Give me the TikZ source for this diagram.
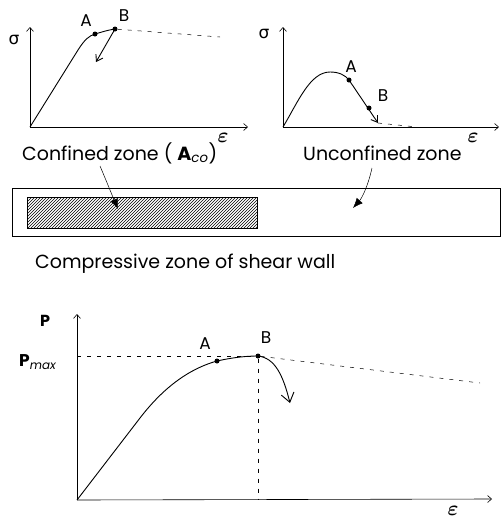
\documentclass[tikz,border=0pt]{standalone}
\usepackage{fontspec}
\setmainfont{Poppins}
\newfontfamily\greekfont{DejaVu Sans}
\usetikzlibrary{arrows.meta,patterns}

\begin{document}
\begin{tikzpicture}[x=1pt,y=-1pt,
  axis/.style={-{Straight Barb[length=4pt,width=7pt]}, line width=0.6pt},
  curve/.style={line width=0.9pt},
  trail/.style={dash pattern=on 4pt off 6pt, line width=0.5pt},
  pt/.style={circle, fill, inner sep=0pt, minimum size=5pt},
  lbl/.style={font=\fontsize{17}{19}\selectfont, inner sep=1pt},
  eps/.style={font=\fontsize{22}{24}\selectfont\boldmath, inner sep=1pt},
  zone/.style={font=\fontsize{19}{21}\selectfont, inner sep=0pt},
  pointer/.style={-{Latex[length=10pt,width=8pt]}, line width=0.5pt}]
\useasboundingbox (0,0) rectangle (501,520);

% confined concrete: stress--strain
\coordinate (o1) at (30,127);
\coordinate (y1) at (30,27);
\coordinate (x1) at (248,127);
\draw[axis] (o1) -- (y1);
\draw[axis] (o1) -- (x1);
\node[lbl] (s1) at (14,40) {\greekfont σ};
\node[eps] (e1) at (223,138) {$\varepsilon$};
\node[pt] (A1) at (95,34) {};
\node[pt] (B1) at (115,29) {};
\node[lbl] (la1) at (86,21) {A};
\node[lbl] (lb1) at (124,16) {B};
\coordinate (d1) at (220,37);
\coordinate (r1) at (96,62);
\draw[curve] (o1) -- (78,50) .. controls (85,39) and (89,36) .. (A1.center)
  .. controls (102,32) and (108,30) .. (B1.center);
\draw[trail] (B1) -- (d1);
\draw[curve, -{Straight Barb[length=6pt,width=8pt]}] (B1.center) -- (r1);

% unconfined concrete: stress--strain
\coordinate (o2) at (283,127);
\coordinate (y2) at (283,27);
\coordinate (x2) at (499,127);
\draw[axis] (o2) -- (y2);
\draw[axis] (o2) -- (x2);
\node[lbl] (s2) at (264,34) {\greekfont σ};
\node[eps] (e2) at (473,138) {$\varepsilon$};
\node[pt] (A2) at (349,80) {};
\node[pt] (B2) at (369,108) {};
\node[lbl] (la2) at (351,67) {A};
\node[lbl] (lb2) at (383,96) {B};
\coordinate (r2) at (378,123);
\coordinate (d2) at (417,127);
\draw[curve] (o2) .. controls (298,102) and (310,72) .. (330,72)
  .. controls (339,72) and (345,75) .. (A2.center);
\draw[curve, -{Straight Barb[length=6pt,width=8pt]}] (A2.center) -- (r2);
\draw[trail] (r2) -- (d2);

% wall section
\node[zone, anchor=west] (conf) at (22,153) {Confined zone ( \textbf{A}\textsubscript{\itshape co})};
\node[zone, anchor=west] (unconf) at (303,153) {Unconfined zone};
\node[draw, line width=0.7pt, anchor=north west, minimum width=488pt, minimum height=48pt] (wall) at (12,188) {};
\node[draw, line width=0.5pt, pattern=north east lines, anchor=north west, minimum width=230pt, minimum height=31pt] (core) at (27,197) {};
\coordinate (cin) at (118,209);
\coordinate (uin) at (353,208);
\draw[pointer] (100,166) .. controls (106,180) and (112,195) .. (cin);
\draw[pointer] (372,168) .. controls (368,186) and (362,198) .. (uin);
\node[zone, anchor=west] (caption) at (35,264) {Compressive zone of shear wall};

% wall: load--strain
\coordinate (o3) at (77,500);
\coordinate (y3) at (77,314);
\coordinate (x3) at (492,499);
\draw[axis] (o3) -- (y3);
\draw[axis] (o3) -- (x3);
\node[lbl, font=\fontsize{16}{18}\selectfont\bfseries] (p3) at (45,321) {P};
\node[lbl, anchor=west] (pm3) at (18,362) {\textbf{P}\textsubscript{\itshape max}};
\node[eps] (e3) at (453,511) {$\varepsilon$};
\node[pt] (A3) at (217,361) {};
\node[pt] (B3) at (258,356) {};
\node[lbl] (la3) at (205,344) {A};
\node[lbl] (lb3) at (266,338) {B};
\coordinate (pmax) at (77,356);
\coordinate (b3) at (258,500);
\coordinate (d3) at (480,383);
\coordinate (r3) at (290,403);
\draw[curve] (o3) -- (140,418) .. controls (160,392) and (185,370) .. (A3.center)
  .. controls (235,357) and (248,356) .. (B3.center);
\draw[trail] (pmax) -- (B3);
\draw[trail] (B3) -- (d3);
\draw[trail] (B3) -- (b3);
\draw[curve, -{Straight Barb[length=9pt,width=13pt]}] (B3.center) .. controls (275,358) and (283,375) .. (r3);
\end{tikzpicture}
\end{document}
